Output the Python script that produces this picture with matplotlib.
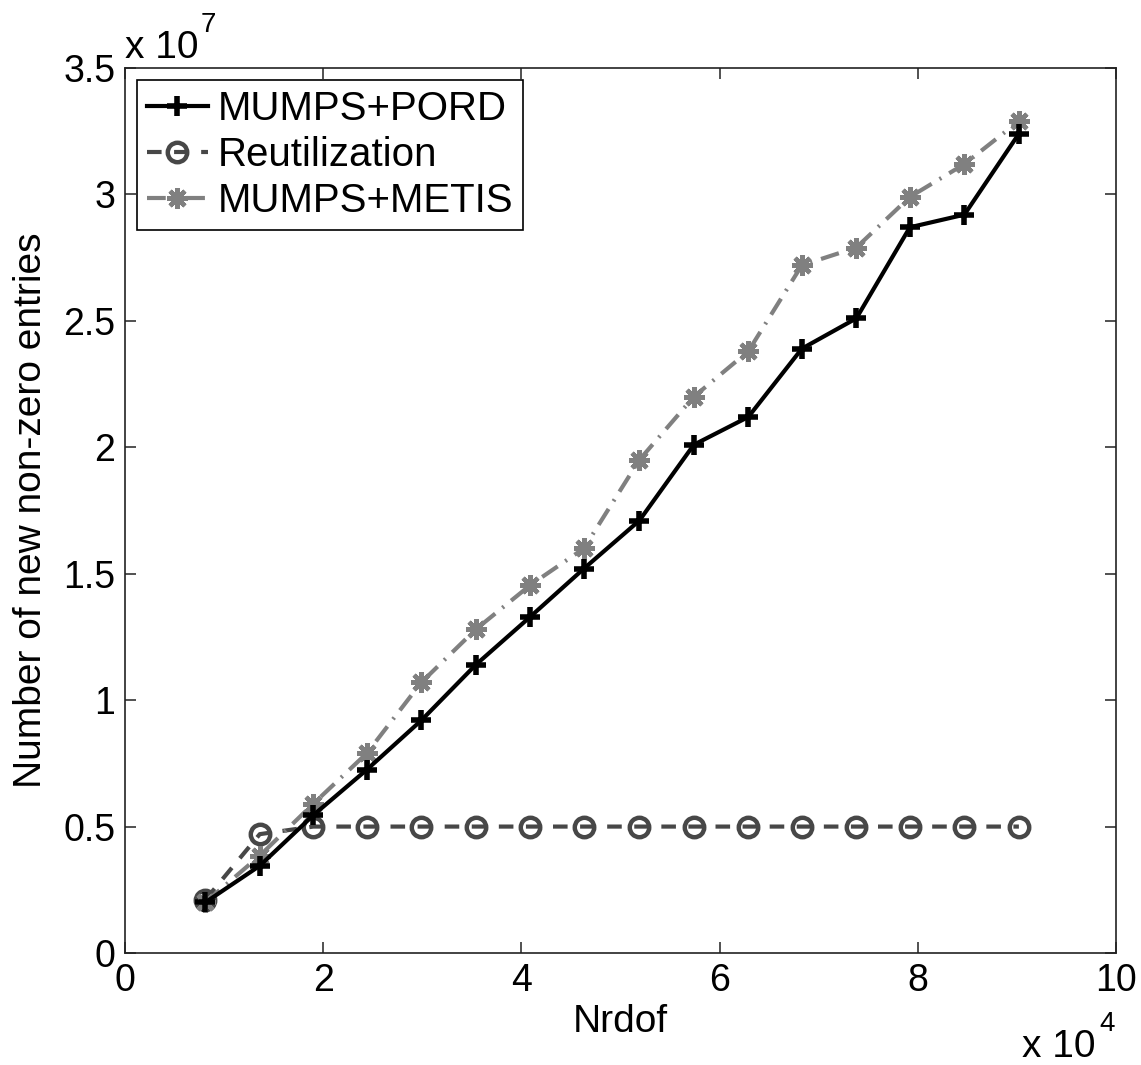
import matplotlib
matplotlib.use("Agg")
import matplotlib.pyplot as plt
from matplotlib.ticker import FuncFormatter

plt.rcParams["font.family"] = ["Liberation Sans", "DejaVu Sans"]

# Nrdof (x 10^4) and number of new non-zero entries (x 10^7)
nrdof = [0.81, 1.36, 1.90, 2.44, 2.99, 3.54, 4.09, 4.63,
         5.19, 5.74, 6.29, 6.83, 7.38, 7.92, 8.47, 9.02]
pord = [0.20, 0.345, 0.545, 0.725, 0.92, 1.14, 1.33, 1.52,
        1.71, 2.01, 2.12, 2.39, 2.51, 2.87, 2.92, 3.24]
reutil = [0.21, 0.47, 0.50, 0.50, 0.50, 0.50, 0.50, 0.50,
          0.50, 0.50, 0.50, 0.50, 0.50, 0.50, 0.50, 0.50]
metis = [0.20, 0.385, 0.59, 0.79, 1.07, 1.28, 1.455, 1.60,
         1.95, 2.20, 2.38, 2.72, 2.79, 2.99, 3.12, 3.29]

x_vals = [v * 1e4 for v in nrdof]
xticks = [0, 2, 4, 6, 8, 10]
yticks = [0, 0.5, 1, 1.5, 2, 2.5, 3, 3.5]

W, H = 1141, 1065
fig = plt.figure(figsize=(W / 100, H / 100), dpi=100)
ax = fig.add_axes([125 / W, 1 - 953 / H, (1116 - 125) / W, (953 - 68) / H])

ax.plot(x_vals, [v * 1e7 for v in pord], color="black", lw=3.0,
        marker="+", ms=15, mew=4, label="MUMPS+PORD", zorder=3)
ax.plot(x_vals, [v * 1e7 for v in reutil], color="#474747", lw=3.0,
        dashes=(3.5, 3), marker="o", ms=14, mew=3.2, mfc="none",
        label="Reutilization", zorder=2)
ax.plot(x_vals, [v * 1e7 for v in metis], color="#808080", lw=3.0,
        dashes=(4.5, 2.2, 0.5, 2.2), marker=(8, 2, 0), ms=15, mew=3.2,
        label="MUMPS+METIS", zorder=2)

ax.set_xlim(0, 10e4)
ax.set_ylim(0, 3.5e7)
ax.set_xticks([t * 1e4 for t in xticks])
ax.set_yticks([t * 1e7 for t in yticks])
ax.xaxis.set_major_formatter(FuncFormatter(lambda v, p: f"{v / 1e4:g}"))
ax.yaxis.set_major_formatter(FuncFormatter(lambda v, p: f"{v / 1e7:g}"))
ax.tick_params(direction="in", length=8, width=1.1, labelsize=27,
               top=True, right=True, pad=7, colors="#222222",
               labelcolor="black")
for s in ax.spines.values():
    s.set_linewidth(1.2)
    s.set_color("#222222")

ax.set_xlabel("Nrdof", fontsize=28, labelpad=4)
ax.set_ylabel("Number of new non-zero entries", fontsize=28, labelpad=10)

# MATLAB-style exponent labels
fig.text(125 / W, 1 - 58 / H, "x 10", fontsize=28, ha="left", va="baseline")
fig.text(201 / W, 1 - 32 / H, "7", fontsize=20, ha="left", va="baseline")
fig.text(1022 / W, 1 - 1057 / H, "x 10", fontsize=28, ha="left", va="baseline")
fig.text(1099 / W, 1 - 1031 / H, "4", fontsize=20, ha="left", va="baseline")

leg = ax.legend(loc="upper left", fontsize=29, frameon=True, fancybox=False,
                edgecolor="black", framealpha=1, borderaxespad=0.3,
                handlelength=1.5, handletextpad=0.25, labelspacing=0.2,
                borderpad=0.25, numpoints=1)
leg.get_frame().set_linewidth(1.2)

fig.savefig("out.png", dpi=100)
